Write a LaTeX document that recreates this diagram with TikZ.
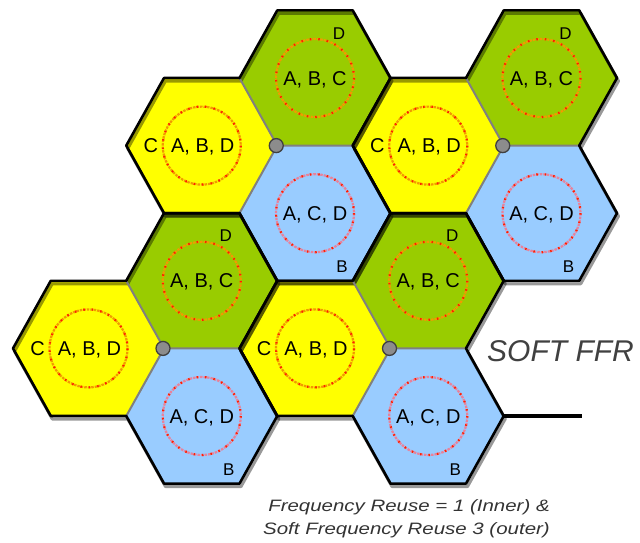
\documentclass[tikz,border=0pt]{standalone}
\usepackage{fontspec}
\setmainfont{Liberation Sans}
\begin{document}
\begin{tikzpicture}[x=1pt,y=-1pt]
\definecolor{hexyellow}{HTML}{FFFF00}
\definecolor{hexgreen}{HTML}{99CC00}
\definecolor{hexblue}{HTML}{99CCFF}
\definecolor{ringorange}{HTML}{F29A00}
\definecolor{ringpink}{HTML}{E8829C}
\definecolor{ringred}{HTML}{FF2000}
\definecolor{dotgray}{HTML}{8C8C8C}
\tikzset{
  celledge/.style={line width=2.6pt, line join=round, black},
  inneredge/.style={line width=2pt, gray},
  shadowedge/.style={line width=3pt, line join=round, black, opacity=0.4},
  ringline/.style={line width=2.2pt, dash pattern=on 2.5pt off 1pt},
  ringdots/.style={line width=2.2pt, ringred, dash pattern=on 1.5pt off 7pt},
  biglabel/.style={font=\fontsize{20}{20}\selectfont, inner sep=0pt, anchor=base},
  smalllabel/.style={font=\fontsize{17}{17}\selectfont, inner sep=0pt, anchor=base},
  junction/.style={circle, fill=dotgray, draw=black!75, line width=1.3pt, minimum size=14pt, inner sep=0pt},
  captext/.style={font=\itshape\fontsize{16.5}{16.5}\selectfont, text=black!80, inner sep=0pt, anchor=base},
}
\useasboundingbox (0,0) rectangle (640,542);
\pgfmathsetmacro\R{75.5}
\pgfmathsetmacro\H{67.6}
\pgfmathsetmacro\hR{\R/2}
\pgfmathsetmacro\sR{1.5*\R}
\pgfmathsetmacro\tR{2*\R}
\pgfmathsetmacro\fR{2.5*\R}
\pgfmathsetmacro\tH{2*\H}
% fills
\foreach \cx/\cy in {201.75/145.6, 428.25/145.6, 88.5/348.4, 315/348.4}{
  \begin{scope}[shift={(\cx,\cy)}]
    \fill[hexyellow] (-\R,0) -- (-\hR,-\H) -- (\hR,-\H) -- (\R,0) -- (\hR,\H) -- (-\hR,\H) -- cycle;
    \fill[hexgreen] (\hR,-\H) -- (\R,-\tH) -- (\tR,-\tH) -- (\fR,-\H) -- (\tR,0) -- (\R,0) -- cycle;
    \fill[hexblue] (\hR,\H) -- (\R,0) -- (\tR,0) -- (\fR,\H) -- (\tR,\tH) -- (\R,\tH) -- cycle;
  \end{scope}
}
% shadows
\foreach \cx/\cy in {201.75/145.6, 428.25/145.6, 88.5/348.4, 315/348.4}{
  \begin{scope}[shift={(\cx+1.5,\cy+3)}]
    \draw[shadowedge] (-\R,0) -- (-\hR,-\H) -- (\hR,-\H) -- (\R,-\tH) -- (\tR,-\tH) -- (\fR,-\H) -- (\tR,0) -- (\fR,\H) -- (\tR,\tH) -- (\R,\tH) -- (\hR,\H) -- (-\hR,\H) -- cycle;
  \end{scope}
}
% edges
\foreach \cx/\cy [count=\i] in {201.75/145.6, 428.25/145.6, 88.5/348.4, 315/348.4}{
  \begin{scope}[shift={(\cx,\cy)}]
    \draw[inneredge] (\hR,-\H) -- (\R,0) -- (\hR,\H) (\R,0) -- (\tR,0);
    \draw[celledge] (-\R,0) -- (-\hR,-\H) -- (\hR,-\H) -- (\R,-\tH) -- (\tR,-\tH) -- (\fR,-\H) -- (\tR,0) -- (\fR,\H) -- (\tR,\tH) -- (\R,\tH) -- (\hR,\H) -- (-\hR,\H) -- cycle;
    \coordinate (east\i) at (\fR,\H);
  \end{scope}
}
% rings, labels, junctions
\foreach \cx/\cy [count=\i] in {201.75/145.6, 428.25/145.6, 88.5/348.4, 315/348.4}{
  \begin{scope}[shift={(\cx,\cy)}]
    \draw[ringline, ringorange] (0,0) circle (39);
    \draw[ringdots] (0,0) circle (39);
    \draw[ringline, ringorange] (\sR,-\H) circle (39);
    \draw[ringdots] (\sR,-\H) circle (39);
    \draw[ringline, ringpink] (\sR,\H) circle (39);
    \draw[ringdots] (\sR,\H) circle (39);
    \node[biglabel] (yin\i) at (1,7) {A, B, D};
    \node[biglabel] (yout\i) at (-51,7) {C};
    \node[biglabel] (gin\i) at (\sR,-\H+7) {A, B, C};
    \node[smalllabel] (gout\i) at (\sR+24,-\H-39) {D};
    \node[biglabel] (bin\i) at (\sR,\H+7) {A, C, D};
    \node[smalllabel] (bout\i) at (\sR+27,\H+59) {B};
    \node[junction] (j\i) at (\R-1,0) {};
  \end{scope}
}
\node[anchor=base west, font=\itshape\fontsize{30}{30}\selectfont, text=black!75, inner sep=0pt] (soft) at (487,361) {SOFT FFR};
\coordinate (lineend) at (582,416);
\draw[line width=4pt] (east4) -- (lineend);
\node[captext] (cap1) at (409,511) {\scalebox{1.24}[1]{Frequency Reuse = 1 (Inner) \&}};
\node[captext] (cap2) at (406.5,534) {\scalebox{1.24}[1]{Soft Frequency Reuse 3 (outer)}};
\end{tikzpicture}
\end{document}
